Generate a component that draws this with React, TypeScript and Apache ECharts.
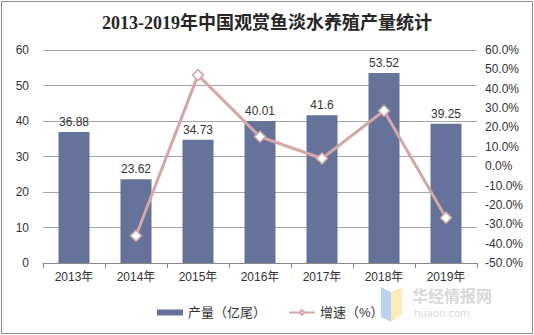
import React, { useEffect, useRef } from "react";
import * as echarts from "echarts";

const categories = ["2013年", "2014年", "2015年", "2016年", "2017年", "2018年", "2019年"];
const production = [36.88, 23.62, 34.73, 40.01, 41.6, 53.52, 39.25];
const growth: (number | null)[] = [null, -35.95, 47.04, 15.2, 3.97, 28.65, -26.66];

export default function App() {
  const ref = useRef<HTMLDivElement>(null);
  useEffect(() => {
    document.body.style.margin = "0";
    const chart = echarts.init(ref.current!, null, { renderer: "svg" });
    const font = "Liberation Sans, Arial, Noto Sans CJK SC, sans-serif";
    chart.setOption({
      animation: false,
      backgroundColor: "#fff",
      title: {
        text: "2013-2019年中国观赏鱼淡水养殖产量统计",
        left: "center",
        top: 9,
        textStyle: {
          fontFamily: "Liberation Serif, Noto Sans CJK SC, serif",
          fontWeight: "bold",
          fontSize: 18,
          color: "#262626",
        },
      },
      grid: { left: 43, right: 57, top: 50, bottom: 72 },
      legend: {
        bottom: 11,
        left: 152,
        itemGap: 22,
        itemWidth: 26,
        itemHeight: 6,
        textStyle: { fontFamily: font, fontSize: 13, color: "#333" },
        data: [
          { name: "产量（亿尾）", icon: "rect" },
          { name: "增速（%）" },
        ],
      },
      xAxis: {
        type: "category",
        data: categories,
        axisLine: { lineStyle: { color: "#888" } },
        axisTick: { show: true, alignWithLabel: false, lineStyle: { color: "#888" }, length: 5 },
        axisLabel: { fontFamily: font, fontSize: 12, color: "#333", margin: 8 },
      },
      yAxis: [
        {
          type: "value",
          min: 0,
          max: 60,
          interval: 10,
          axisLine: { show: false },
          axisTick: { show: false },
          splitLine: { lineStyle: { color: "#a6a6a6" } },
          axisLabel: { fontFamily: font, fontSize: 12, color: "#333", margin: 14 },
        },
        {
          type: "value",
          min: -50,
          max: 60,
          interval: 10,
          axisLine: { show: false },
          axisTick: { show: false },
          splitLine: { show: false },
          axisLabel: {
            fontFamily: font,
            fontSize: 12,
            color: "#333",
            margin: 8,
            formatter: (v: number) => v.toFixed(1) + "%",
          },
        },
      ],
      series: [
        {
          name: "产量（亿尾）",
          type: "bar",
          data: production,
          barWidth: "50%",
          itemStyle: { color: "#657299" },
          label: {
            show: true,
            position: "top",
            fontFamily: font,
            fontSize: 12,
            color: "#333",
            distance: 4,
          },
        },
        {
          name: "增速（%）",
          type: "line",
          yAxisIndex: 1,
          data: growth,
          symbol: "diamond",
          symbolSize: 11,
          lineStyle: { color: "#d4a7a6", width: 3 },
          itemStyle: { color: "#ffffff", borderColor: "#d4a7a6", borderWidth: 1.5 },
        },
      ],
      graphic: [
        {
          type: "rect",
          shape: { x: 1.5, y: 1.5, width: 531, height: 332 },
          style: { fill: "none", stroke: "#8c8c8c", lineWidth: 1 },
          silent: true,
        },
        {
          type: "polygon",
          shape: { points: [[381, 287], [391, 292], [391, 322], [381, 317]] },
          style: { fill: "#a9c8f0", opacity: 0.8 },
          silent: true,
        },
        {
          type: "polygon",
          shape: { points: [[391, 292], [402, 287], [402, 314], [391, 322]] },
          style: { fill: "#fbe9a6", opacity: 0.8 },
          silent: true,
        },
        {
          type: "text",
          x: 412,
          y: 287,
          style: {
            text: "华经情报网",
            fontFamily: "Noto Sans CJK SC, sans-serif",
            fontSize: 16,
            fontWeight: "bold",
            fill: "#d9d9d9",
          },
          silent: true,
        },
        {
          type: "text",
          x: 414,
          y: 308,
          style: {
            text: "huaon.com",
            fontFamily: "DejaVu Sans, sans-serif",
            fontSize: 10,
            fill: "#d9d9d9",
            letterSpacing: 2,
          },
          silent: true,
        },
      ],
    });
    return () => chart.dispose();
  }, []);
  return <div ref={ref} style={{ width: 534, height: 335 }} />;
}
